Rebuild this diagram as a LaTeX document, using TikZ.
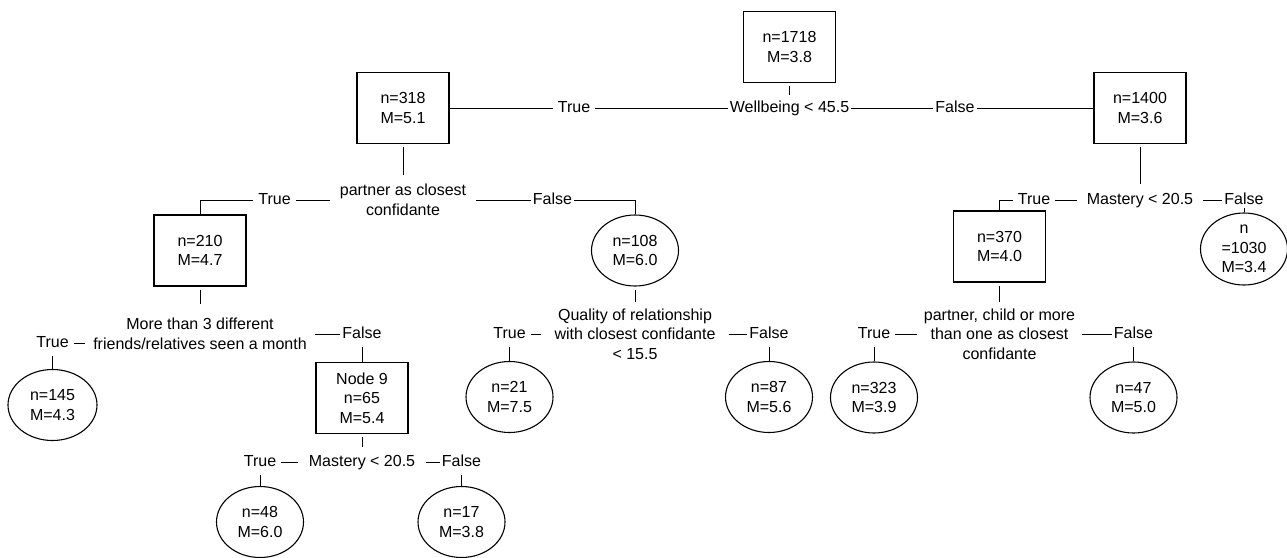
\documentclass[tikz,border=0pt]{standalone}
\usepackage{fontspec}
\setmainfont{Liberation Sans}
\usetikzlibrary{shapes.geometric}

\tikzset{
	boxnode/.style={draw, line width=1.1pt, minimum width=92pt, minimum height=71pt, inner sep=0pt, align=center},
	ovalnode/.style={draw, line width=1.1pt, ellipse, minimum width=87pt, minimum height=71pt, inner sep=0pt, align=center},
	splittext/.style={align=center, inner xsep=8pt, inner ysep=8pt},
	oneline/.style={text height=11.5pt, text depth=3.5pt},
	truetag/.style={oneline, inner xsep=5pt, inner ysep=5.5pt},
	falsetag/.style={oneline, inner xsep=2pt, inner ysep=5.5pt},
	conn/.style={line width=0.8pt},
	stemline/.style={conn, shorten <=3pt}
}

\begin{document}
\begin{tikzpicture}[x=1pt, y=-1pt, font=\fontsize{16}{19.5}\selectfont]
				\useasboundingbox (0,0) rectangle (1287,557);

				\node[boxnode] (root) at (789.5,47) {n=1718\\M=3.8};
				\node[splittext, oneline, inner xsep=2pt, inner ysep=5.5pt] (c1) at (789.5,108) {Wellbeing < 45.5};
				\node[truetag] (t1) at (574,108) {True};
				\node[falsetag] (f1) at (955,108) {False};
				\node[boxnode] (n318) at (403,108) {n=318\\M=5.1};
				\node[boxnode] (n1400) at (1140,108) {n=1400\\M=3.6};

				\node[splittext, inner xsep=10pt, inner ysep=9pt] (c2) at (403,200) {partner as closest\\confidante};
				\node[truetag] (t2) at (274.5,200) {True};
				\node[falsetag] (f2) at (552.5,200) {False};
				\node[boxnode] (n210) at (200,250.5) {n=210\\M=4.7};
				\node[ovalnode] (n108) at (635,250.5) {n=108\\M=6.0};

				\node[splittext, oneline, inner xsep=10pt, inner ysep=8.5pt] (c3) at (1140,200) {Mastery < 20.5};
				\node[truetag] (t3) at (1034,200) {True};
				\node[falsetag, inner ysep=0.5pt] (f3) at (1244,200) {False};
				\node[boxnode] (n370) at (999.5,246.5) {n=370\\M=4.0};
				\node[ovalnode, minimum height=72pt] (n1030) at (1244,249) {n\\=1030\\M=3.4};

				\node[splittext, inner ysep=14.5pt] (c4) at (200,334) {More than 3 different\\friends/relatives seen a month};
				\node[truetag] (t4) at (52.5,343) {True};
				\node[falsetag] (f4) at (362,334) {False};
				\node[ovalnode, minimum width=89pt] (n145) at (52.5,405) {n=145\\M=4.3};
				\node[boxnode] (n65) at (362,398) {Node 9\\n=65\\M=5.4};

				\node[splittext, oneline, inner xsep=11pt, inner ysep=7.5pt] (c5) at (362,462) {Mastery < 20.5};
				\node[truetag] (t5) at (260,462) {True};
				\node[falsetag] (f5) at (461.5,462) {False};
				\node[ovalnode] (n48) at (260,522) {n=48\\M=6.0};
				\node[ovalnode] (n17) at (461.5,522) {n=17\\M=3.8};

				\node[splittext, inner xsep=13pt, inner ysep=6pt] (c6) at (635,334) {Quality of relationship\\with closest confidante\\< 15.5};
				\node[truetag] (t6) at (509.5,334) {True};
				\node[falsetag] (f6) at (769,334) {False};
				\node[ovalnode] (n21) at (509.5,397) {n=21\\M=7.5};
				\node[ovalnode] (n87) at (769,397) {n=87\\M=5.6};

				\node[splittext, inner xsep=7pt, inner ysep=6pt] (c7) at (999.5,334) {partner, child or more\\than one as closest\\confidante};
				\node[truetag] (t7) at (874,334) {True};
				\node[falsetag] (f7) at (1133.5,334) {False};
				\node[ovalnode] (n323) at (874,397.5) {n=323\\M=3.9};
				\node[ovalnode] (n47) at (1133.5,397.5) {n=47\\M=5.0};

				\draw[stemline] (root) -- (c1);
				\draw[conn] (c1) -- (t1) -- (n318);
				\draw[conn] (c1) -- (f1) -- (n1400);

				\draw[stemline] (n318) -- (c2);
				\draw[conn] (c2) -- (t2) -| (n210);
				\draw[conn] (c2) -- (f2) -| (n108);

				\draw[stemline] (n1400) -- (c3);
				\draw[conn] (c3) -- (t3) -| (n370);
				\draw[conn] (c3) -- (f3) -- (n1030);

				\draw[stemline] (n210) -- (c4);
				\draw[conn] (t4) -- (t4 -| c4.west);
				\draw[conn] (t4) -- (n145);
				\draw[conn] (c4) -- (f4) -- (n65);

				\draw[stemline] (n65) -- (c5);
				\draw[conn] (c5) -- (t5) -- (n48);
				\draw[conn] (c5) -- (f5) -- (n17);

				\draw[stemline] (n108) -- (c6);
				\draw[conn] (c6) -- (t6) -- (n21);
				\draw[conn] (c6) -- (f6) -- (n87);

				\draw[stemline] (n370) -- (c7);
				\draw[conn] (c7) -- (t7) -- (n323);
				\draw[conn] (c7) -- (f7) -- (n47);
\end{tikzpicture}
\end{document}
